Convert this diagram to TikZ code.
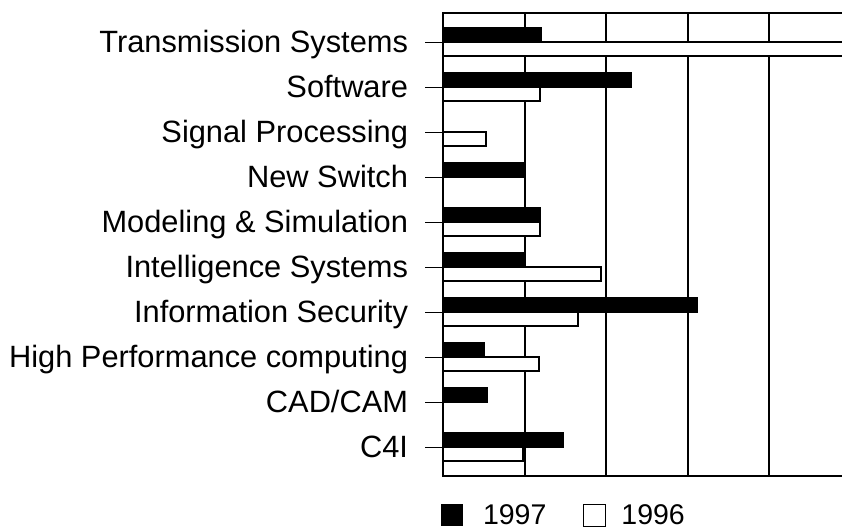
\documentclass[tikz,border=0pt]{standalone}
\usepackage{fontspec}
\setmainfont{Liberation Sans}
\usetikzlibrary{positioning}
\begin{document}
\begin{tikzpicture}[x=1pt,y=-1pt,inner sep=0pt,outer sep=0pt,
catlabel/.style={anchor=base east,font=\fontsize{30.8}{36}\selectfont},
keytext/.style={anchor=west,font=\fontsize{28.5}{34}\selectfont},
bar97/.style={draw,fill=black,line width=1.2pt},
bar96/.style={draw,fill=white,line width=1.2pt},
gridln/.style={line width=2pt},
tickln/.style={line width=1pt}]
\useasboundingbox (0,0) rectangle (842,531);
% grid
\foreach \gx in {524.5,606,687.5,769}
  \draw[gridln] (\gx,13) -- (\gx,476);
% bars: row/label/1997/1996
\foreach \i/\catname/\a/\b in {1/Transmission Systems/98/400, 2/Software/188/97,
  3/Signal Processing/0/43, 4/New Switch/81/0, 5/Modeling \& Simulation/97/97,
  6/Intelligence Systems/81/158, 7/Information Security/254/135,
  8/High Performance computing/41/96, 9/{CAD/CAM}/44/0, 10/C4I/120/80}{
  \pgfmathsetmacro\y{42+45*(\i-1)}
  \draw (408,\y+10) node[catlabel] (lab\i) {\catname};
  \coordinate (ax\i) at (443,\y);
  \draw[tickln] (ax\i) -- ++(-18,0);
  \draw[bar96] (ax\i) rectangle ++(\b,14);
  \draw[bar97] (ax\i) rectangle ++(\a,-14);
}
\draw[line width=1.5pt] (ax3) -- ++(15,0);
% frame
\draw[gridln] (842,13) -- (443,13) -- (443,476) -- (842,476);
% key
\node[draw,fill=black,minimum size=21pt] (key97) at (451.5,515) {};
\node[keytext,right=21pt of key97] (txt97) {1997};
\node[draw,fill=white,line width=1pt,minimum size=22pt,right=37pt of txt97] (key96) {};
\node[keytext,right=16pt of key96] (txt96) {1996};
\end{tikzpicture}
\end{document}
